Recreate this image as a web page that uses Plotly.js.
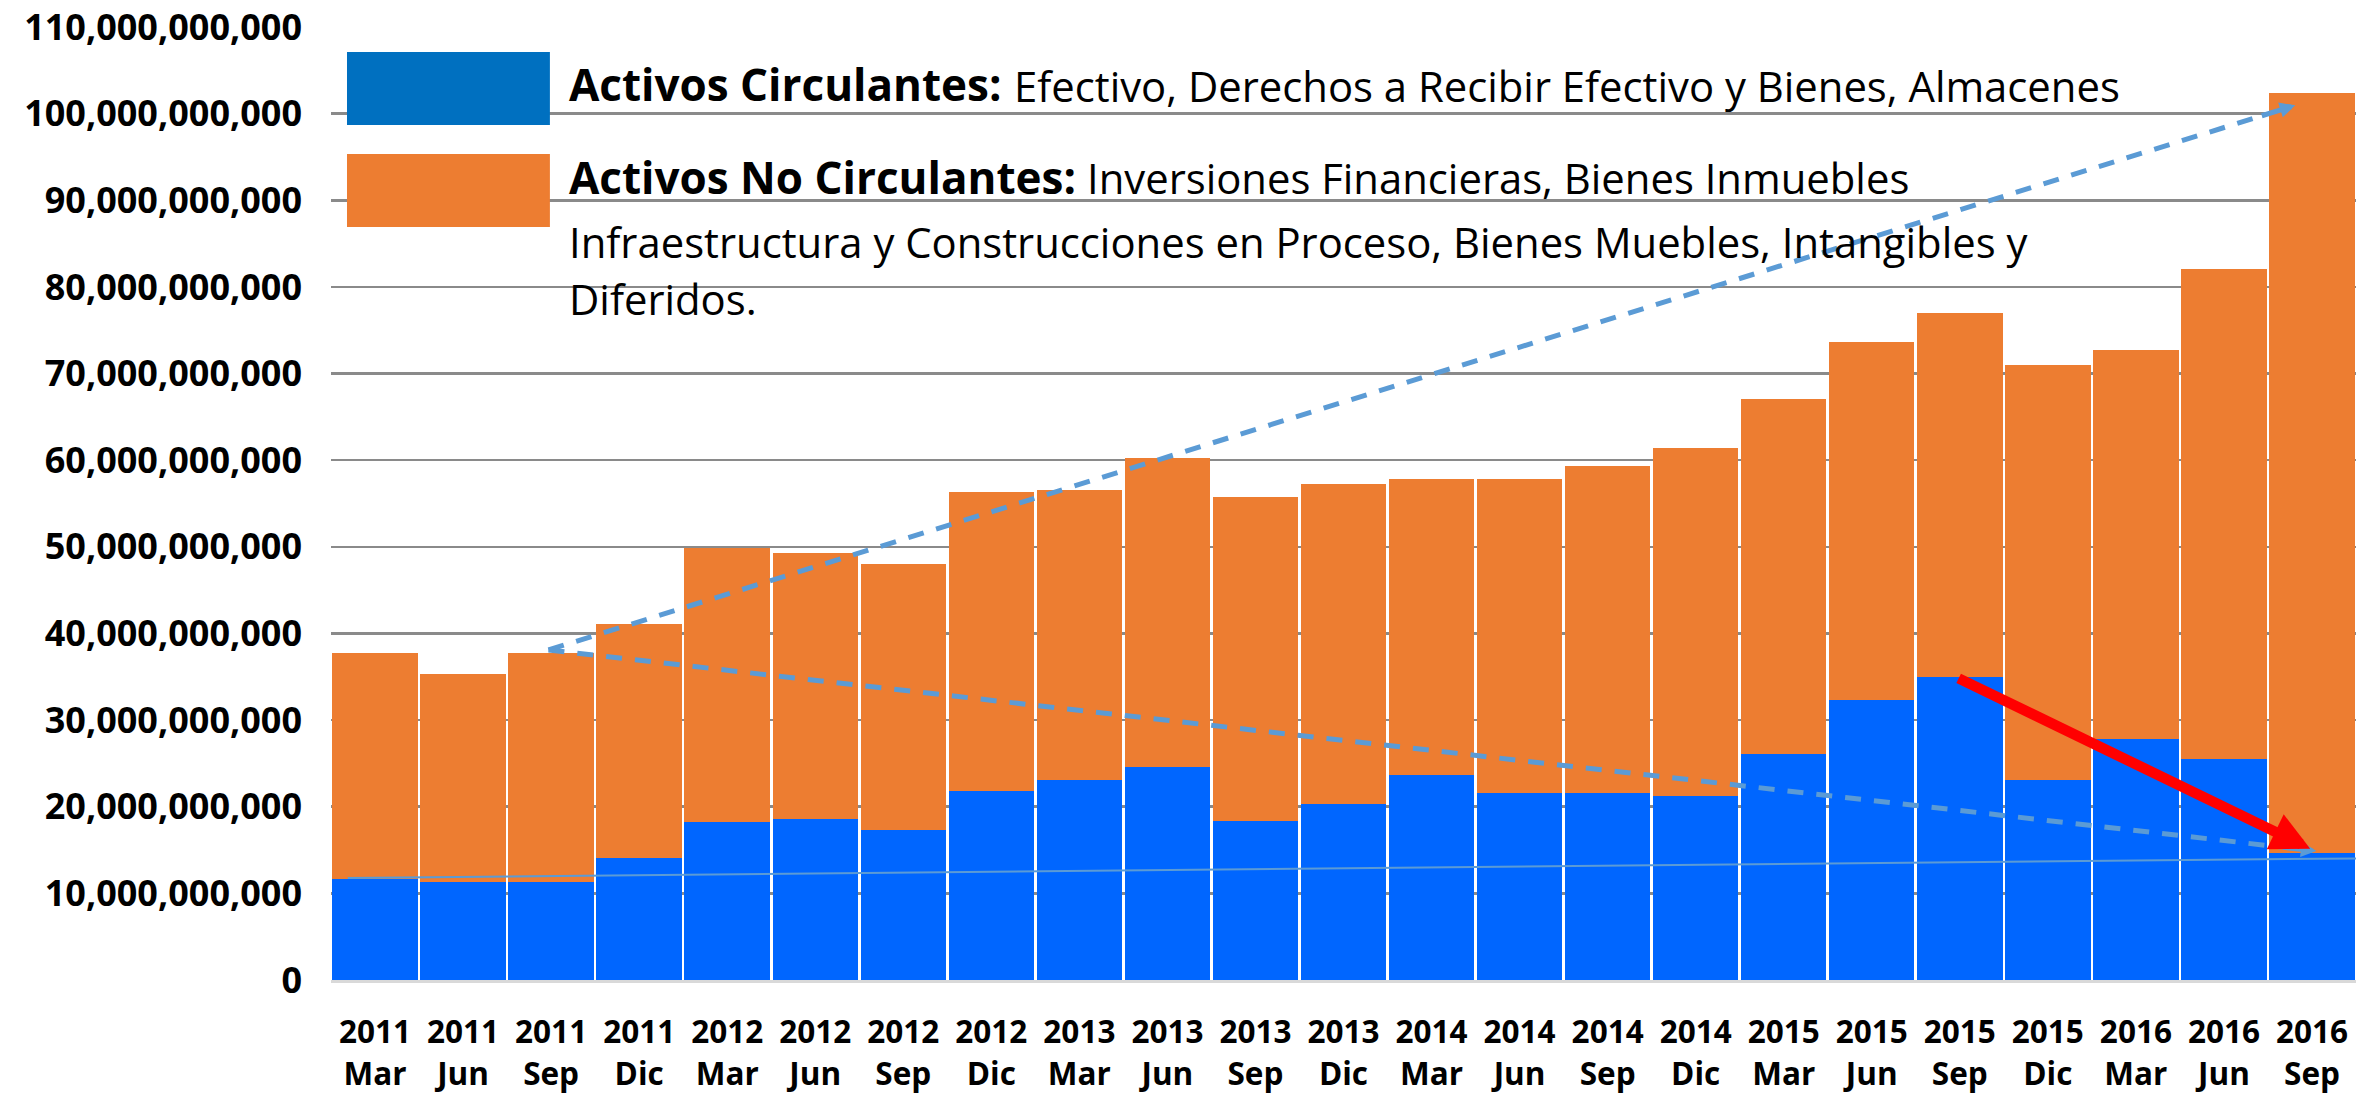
<!DOCTYPE html>
<html>
<head>
<meta charset="utf-8">
<script src="https://cdn.plot.ly/plotly-3.0.1.min.js"></script>
<style>html,body{margin:0;padding:0;background:#fff;}#chart{width:2376px;height:1097px;}</style>
</head>
<body>
<div id="chart"></div>
<script>
// ---- Data ----
const years  = ['2011','2011','2011','2011','2012','2012','2012','2012','2013','2013','2013','2013','2014','2014','2014','2014','2015','2015','2015','2015','2016','2016','2016'];
const months = ['Mar','Jun','Sep','Dic','Mar','Jun','Sep','Dic','Mar','Jun','Sep','Dic','Mar','Jun','Sep','Dic','Mar','Jun','Sep','Dic','Mar','Jun','Sep'];
// Activos Circulantes (blue)
const circulantes = [11.70e9, 11.34e9, 11.34e9, 14.08e9, 18.27e9, 18.59e9, 17.34e9, 21.85e9, 23.06e9, 24.55e9, 18.30e9, 20.36e9, 23.67e9, 21.57e9, 21.57e9, 21.29e9, 26.04e9, 32.37e9, 35.02e9, 23.06e9, 27.85e9, 25.47e9, 14.68e9];
// Activos No Circulantes (orange, stacked on top)
const noCirculantes = [26.03e9, 23.96e9, 26.39e9, 27.01e9, 31.61e9, 30.71e9, 30.71e9, 34.45e9, 33.54e9, 35.65e9, 37.40e9, 36.84e9, 34.13e9, 36.23e9, 37.73e9, 40.11e9, 41.01e9, 41.28e9, 41.98e9, 47.89e9, 44.90e9, 56.58e9, 87.67e9];
const yTicks = [0, 10e9, 20e9, 30e9, 40e9, 50e9, 60e9, 70e9, 80e9, 90e9, 100e9, 110e9];

// Annotation lines (x = category index, y = value)
const upTrend    = {x0: 1.97, y0: 38.1e9, x1: 21.81, y1: 100.96e9};
const downTrend  = {x0: 1.97, y0: 38.1e9, x1: 22.05, y1: 14.88e9};
const baseTrend  = {x0: -0.31, y0: 11.76e9, x1: 22.57, y1: 14.04e9};
const redArrow   = {x0: 17.97, y0: 34.9e9, x1: 21.98, y1: 15.15e9};

const categories = years.map((y, i) => y + ' ' + months[i]);
const positions = months.map((m, i) => i);

const FONT = 'Open Sans, Liberation Sans, sans-serif';
const BLUE_BAR = '#0066FF';
const ORANGE = '#ED7D31';
const TREND = '#5B9BD5';

const traces = [
  {type: 'bar', x: categories, y: circulantes, name: 'Activos Circulantes',
   marker: {color: BLUE_BAR, line: {width: 0}}, showlegend: false},
  {type: 'bar', x: categories, y: noCirculantes, name: 'Activos No Circulantes',
   marker: {color: ORANGE, line: {width: 0}}, showlegend: false},
  // invisible carrier so the month tick row (xaxis2) is drawn
  {type: 'scatter', x: positions, y: circulantes, xaxis: 'x2', yaxis: 'y', mode: 'markers',
   marker: {opacity: 0, size: 1}, hoverinfo: 'skip', showlegend: false}
];

function back(t, f) { // point slightly before the tip along the line
  return {x: t.x1 - (t.x1 - t.x0) * f, y: t.y1 - (t.y1 - t.y0) * f};
}
const upBack = back(upTrend, 0.02);
const downBack = back(downTrend, 0.02);

const shapes = [
  {type: 'line', xref: 'x', yref: 'y', x0: baseTrend.x0, y0: baseTrend.y0, x1: baseTrend.x1, y1: baseTrend.y1,
   line: {color: TREND, width: 2}},
  {type: 'line', xref: 'x', yref: 'y', x0: upTrend.x0, y0: upTrend.y0, x1: upBack.x, y1: upBack.y,
   line: {color: TREND, width: 5, dash: '16px,13px'}},
  {type: 'line', xref: 'x', yref: 'y', x0: downTrend.x0, y0: downTrend.y0, x1: downBack.x, y1: downBack.y,
   line: {color: TREND, width: 5, dash: '16px,13px'}},
  // legend swatches
  {type: 'rect', xref: 'paper', yref: 'paper', x0: 0.0079, x1: 0.1081, y0: 0.8972, y1: 0.9738,
   fillcolor: '#0070C0', line: {width: 0}},
  {type: 'rect', xref: 'paper', yref: 'paper', x0: 0.0079, x1: 0.1081, y0: 0.7901, y1: 0.8667,
   fillcolor: ORANGE, line: {width: 0}}
];

const legendText = {family: FONT, color: '#000', size: 41.8};
const legendBold = {family: FONT, color: '#000', size: 44, weight: 'bold'};

const annotations = [
  {xref: 'x', yref: 'y', axref: 'x', ayref: 'y', x: upTrend.x1, y: upTrend.y1, ax: upBack.x, ay: upBack.y,
   text: '', showarrow: true, arrowhead: 2, arrowsize: 0.62, arrowwidth: 5, arrowcolor: TREND, standoff: 0},
  {xref: 'x', yref: 'y', axref: 'x', ayref: 'y', x: downTrend.x1, y: downTrend.y1, ax: downBack.x, ay: downBack.y,
   text: '', showarrow: true, arrowhead: 2, arrowsize: 0.62, arrowwidth: 5, arrowcolor: TREND, standoff: 0},
  {xref: 'x', yref: 'y', axref: 'x', ayref: 'y', x: redArrow.x1, y: redArrow.y1, ax: redArrow.x0, ay: redArrow.y0,
   text: '', showarrow: true, arrowhead: 2, arrowsize: 0.74, arrowwidth: 10.5, arrowcolor: '#FF0000', standoff: 0},
  // custom legend text
  {xref: 'paper', yref: 'paper', x: 0.1165, y: 0.940, xanchor: 'left', yanchor: 'middle', showarrow: false,
   text: '<b>Activos Circulantes:</b>', font: legendBold},
  {xref: 'paper', yref: 'paper', x: 0.3363, y: 0.9387, xanchor: 'left', yanchor: 'middle', showarrow: false,
   text: 'Efectivo, Derechos a Recibir Efectivo y Bienes, Almacenes', font: legendText},
  {xref: 'paper', yref: 'paper', x: 0.1165, y: 0.8431, xanchor: 'left', yanchor: 'middle', showarrow: false,
   text: '<b>Activos No Circulantes:</b>', font: legendBold},
  {xref: 'paper', yref: 'paper', x: 0.3721, y: 0.8419, xanchor: 'left', yanchor: 'middle', showarrow: false,
   text: 'Inversiones Financieras, Bienes Inmuebles', font: legendText},
  {xref: 'paper', yref: 'paper', x: 0.1165, y: 0.7754, xanchor: 'left', yanchor: 'middle', showarrow: false,
   text: 'Infraestructura y Construcciones en Proceso, Bienes Muebles, Intangibles y', font: legendText},
  {xref: 'paper', yref: 'paper', x: 0.1165, y: 0.7156, xanchor: 'left', yanchor: 'middle', showarrow: false,
   text: 'Diferidos.', font: legendText}
];

const tickFontX = {family: FONT, size: 31.5, weight: 'bold', color: '#000'};

const layout = {
  width: 2376, height: 1097,
  margin: {l: 331, r: 20, t: 27, b: 117},
  paper_bgcolor: '#fff', plot_bgcolor: '#fff',
  barmode: 'stack', bargap: 0.03,
  showlegend: false,
  font: {family: FONT, color: '#000'},
  xaxis: {type: 'category', range: [-0.5, 22.5], tickmode: 'array', tickvals: categories, ticktext: years,
          tickfont: tickFontX, ticklabelstandoff: 22,
          showgrid: false, zeroline: false, showline: true, linecolor: '#D9D9D9', linewidth: 3,
          ticks: '', tickangle: 0, fixedrange: true},
  xaxis2: {type: 'linear', overlaying: 'x', anchor: 'y', side: 'bottom', range: [-0.5, 22.5],
           tickmode: 'array', tickvals: positions, ticktext: months,
           tickfont: tickFontX,
           ticks: 'outside', ticklen: 66, tickcolor: 'rgba(0,0,0,0)', tickwidth: 1,
           showgrid: false, zeroline: false, showline: false, tickangle: 0, fixedrange: true},
  yaxis: {range: [0, 110e9], tickvals: yTicks, tickformat: ',.0f',
          tickfont: {family: FONT, size: 36, weight: 'bold', color: '#000'},
          showgrid: true, gridcolor: '#8A8A8A', gridwidth: 2.5, zeroline: false, showline: false,
          ticks: '', ticklabelstandoff: 28, fixedrange: true},
  shapes: shapes,
  annotations: annotations
};

Plotly.newPlot('chart', traces, layout, {displayModeBar: false, staticPlot: true});
</script>
</body>
</html>
